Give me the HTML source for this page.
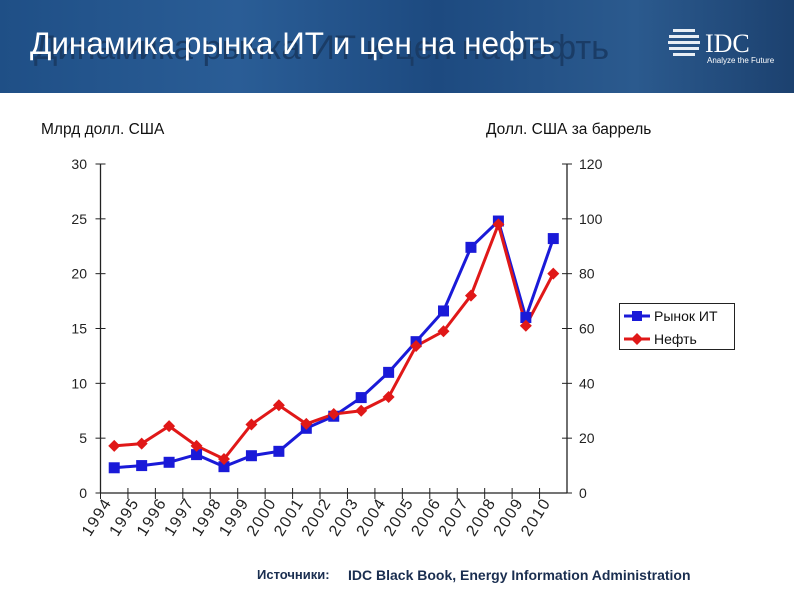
<!DOCTYPE html>
<html><head><meta charset="utf-8"><style>
body{margin:0;width:794px;height:595px;overflow:hidden;background:#fff;font-family:"Liberation Sans",sans-serif;}
#hdr{position:absolute;left:0;top:0;width:794px;height:93px;background:linear-gradient(90deg,#1f4f86 0%,#2a5d96 30%,#1d4a80 55%,#2b5a8e 80%,#1c416f 100%);}
.t{position:absolute;white-space:nowrap;}
</style></head><body>
<div id="hdr">
<div class="t" style="left:34px;top:29px;font-size:34.5px;color:#1a3c66;">Динамика рынка ИТ и цен на нефть</div>
<div class="t" style="left:30px;top:25px;font-size:31.5px;color:#fff;">Динамика рынка ИТ и цен на нефть</div>
<svg style="position:absolute;left:665px;top:25px" width="125" height="45">
<g fill="#e8eef5"><rect x="8" y="4" width="22" height="3"/><rect x="4" y="10" width="30" height="3"/><rect x="3" y="16" width="32" height="3"/><rect x="4" y="22" width="30" height="3"/><rect x="8" y="28" width="22" height="3"/></g>
<text x="40" y="27" font-family="Liberation Serif" font-size="26" fill="#fff">IDC</text>
<text x="42" y="38" font-size="8" fill="#fff">Analyze the Future</text></svg>
</div>
<div class="t" style="left:41px;top:121px;font-size:15.5px;color:#111;">Млрд долл. США</div>
<div class="t" style="left:486px;top:121px;font-size:15.5px;color:#111;">Долл. США за баррель</div>
<svg id="ch" width="794" height="595" style="position:absolute;left:0;top:0"></svg>
<div class="t" style="left:619px;top:303px;width:114px;height:45px;border:1px solid #222;"></div>
<div class="t" style="left:257px;top:567px;font-size:13px;font-weight:bold;color:#1a2e50;">Источники:</div>
<div class="t" style="left:348px;top:567px;font-size:14px;font-weight:bold;color:#1a2e50;">IDC Black Book, Energy Information Administration</div>
<script>
const years=["1994","1995","1996","1997","1998","1999","2000","2001","2002","2003","2004","2005","2006","2007","2008","2009","2010"];
const itMarket=[2.3,2.5,2.8,3.5,2.4,3.4,3.8,5.9,7.0,8.7,11.0,13.8,16.6,22.4,24.8,16.0,23.2];
const oilPrice=[17.2,18,24.4,17.2,12.4,25,32,25.2,28.8,30,35,53.6,59,72,98,61,80];
const leftTicks=[0,5,10,15,20,25,30];
const rightTicks=[0,20,40,60,80,100,120];
const NS="http://www.w3.org/2000/svg",svg=document.getElementById('ch');
const X0=100.5,X1=567,Y0=493,Y1=164,band=(X1-X0)/years.length;
const xc=i=>X0+band*(i+0.5), yl=v=>Y0-(Y0-Y1)*v/30, yr=v=>Y0-(Y0-Y1)*v/120;
function mk(t,a,p){const e=document.createElementNS(NS,t);for(const k in a)e.setAttribute(k,a[k]);(p||svg).appendChild(e);return e;}
let e;
e=mk('line',{x1:X0,y1:Y1,x2:X0,y2:Y0,stroke:'#222','stroke-width':1.3});

e=mk('line',{x1:X1,y1:Y1,x2:X1,y2:Y0,stroke:'#222','stroke-width':1.3});

e=mk('line',{x1:X0,y1:Y0,x2:X1,y2:Y0,stroke:'#222','stroke-width':1.3});

leftTicks.forEach(v=>{mk('line',{x1:X0-5,y1:yl(v),x2:X0+5,y2:yl(v),stroke:'#222'});
e=mk('text',{x:87,y:yl(v)+5,'text-anchor':'end','font-size':14,fill:'#222'});e.textContent=v;
});
rightTicks.forEach(v=>{mk('line',{x1:X1-5,y1:yr(v),x2:X1+5,y2:yr(v),stroke:'#222'});
e=mk('text',{x:579,y:yr(v)+5,'font-size':14,fill:'#222'});e.textContent=v;
});
years.forEach((y,i)=>{const bx=X0+band*i;mk('line',{x1:bx,y1:Y0-5,x2:bx,y2:Y0+6,stroke:'#222'});
e=mk('text',{x:0,y:0,'text-anchor':'end','font-size':16,'letter-spacing':'1.5',fill:'#222',transform:`translate(${xc(i)-2},${Y0+9}) rotate(-58)`});e.textContent=y;
});
e=mk('polyline',{points:itMarket.map((v,i)=>xc(i)+','+yl(v)).join(' '),fill:'none',stroke:'#1a1ad8','stroke-width':3});

e=mk('polyline',{points:oilPrice.map((v,i)=>xc(i)+','+yr(v)).join(' '),fill:'none',stroke:'#e01818','stroke-width':3});

itMarket.forEach((v,i)=>{e=mk('rect',{x:xc(i)-5.5,y:yl(v)-5.5,width:11,height:11,fill:'#1a1ad8'});
});
oilPrice.forEach((v,i)=>{const x=xc(i),y=yr(v);e=mk('polygon',{points:`${x},${y-6} ${x+6},${y} ${x},${y+6} ${x-6},${y}`,fill:'#e01818'});
});
mk('line',{x1:624,y1:316,x2:650,y2:316,stroke:'#1a1ad8','stroke-width':3});mk('rect',{x:632,y:311,width:10,height:10,fill:'#1a1ad8'});
e=mk('text',{x:654,y:321,'font-size':14,fill:'#111'});e.textContent='Рынок ИТ';
mk('line',{x1:624,y1:339,x2:650,y2:339,stroke:'#e01818','stroke-width':3});mk('polygon',{points:'637,333 643,339 637,345 631,339',fill:'#e01818'});
e=mk('text',{x:654,y:344,'font-size':14,fill:'#111'});e.textContent='Нефть';
</script>
</body></html>
